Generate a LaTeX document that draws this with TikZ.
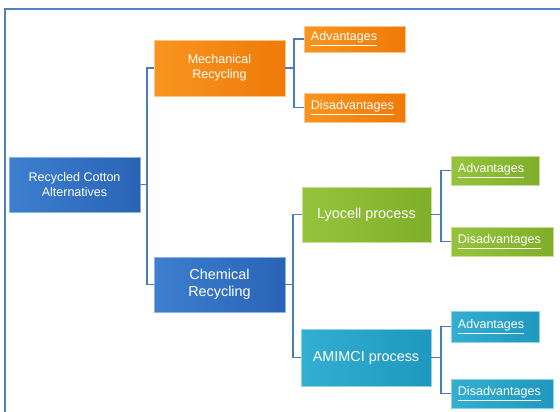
\documentclass[tikz,border=0pt]{standalone}
\usepackage{fontspec}
\setmainfont{Liberation Sans}
\usepackage{xcolor}
\usetikzlibrary{positioning}

\definecolor{framblue}{HTML}{4F81BD}
\definecolor{linkblue}{HTML}{4A7DBD}
\definecolor{blueL}{HTML}{3D7FCF}
\definecolor{blueD}{HTML}{2A63B5}
\definecolor{orngL}{HTML}{F8951F}
\definecolor{orngD}{HTML}{EF7A08}
\definecolor{grnL}{HTML}{95C43C}
\definecolor{grnD}{HTML}{80AE2A}
\definecolor{tealL}{HTML}{33AFD2}
\definecolor{tealD}{HTML}{1F97BE}

\begin{document}
\begin{tikzpicture}[x=0.75pt, y=-0.75pt,
    topic/.style={rectangle, text=white, align=center, inner sep=2pt,
                  line width=0.4pt, font=\fontsize{9.4}{11.3}\selectfont},
    bigtopic/.style={topic, font=\fontsize{10.8}{13}\selectfont},
    leaf/.style={rectangle, text=white, align=left, inner xsep=5pt, inner ysep=2pt,
                 anchor=west, line width=0.4pt, font=\fontsize{9.4}{11.3}\selectfont},
    bluefill/.style={left color=blueL, right color=blueD, draw=blueL!60!white},
    orngfill/.style={left color=orngL, right color=orngD, draw=orngL!55!white},
    grnfill/.style={left color=grnL, right color=grnD, draw=grnL!55!white},
    tealfill/.style={left color=tealL, right color=tealD, draw=tealL!55!white},
    link/.style={draw=linkblue, line width=1.4pt}
]
\useasboundingbox (0,0) rectangle (560,411);

% --- outer frame ---
\draw[framblue, line width=1.6pt] (5,415) -- (5,9) -- (565,9);

% --- root and first level ---
\node[topic, bluefill, minimum width=98.25pt, minimum height=41.25pt] (root) at (74.5,184.5)
    {Recycled Cotton\\Alternatives};
\node[topic, orngfill, minimum width=98.25pt, minimum height=42pt] (mech) at (219.5,68)
    {Mechanical\\Recycling};
\node[bigtopic, bluefill, minimum width=98.25pt, minimum height=41.25pt] (chem) at (219.5,284.5)
    {Chemical\\Recycling};

% --- chemical processes ---
\node[bigtopic, grnfill, minimum width=96.75pt, minimum height=41.25pt] (lyo) at (366.5,214.5)
    {Lyocell process};
\node[bigtopic, tealfill, minimum width=97.5pt, minimum height=42.75pt] (amim) at (366,357.5)
    {AMIMCI process};

% --- advantages / disadvantages ---
\node[leaf, orngfill, text width=65.75pt, minimum height=19.5pt] (mechadv) at (304,39)
    {\underline{Advantages}};
\node[leaf, orngfill, text width=65.75pt, minimum height=21.75pt] (mechdis) at (304,107.5)
    {\underline{Disadvantages}};
\node[leaf, grnfill, text width=56pt, minimum height=21.75pt] (lyoadv) at (451,170.5)
    {\underline{Advantages}};
\node[leaf, grnfill, text width=66.5pt, minimum height=21.75pt] (lyodis) at (451,241.5)
    {\underline{Disadvantages}};
\node[leaf, tealfill, text width=56pt, minimum height=23.25pt] (amimadv) at (451,326.5)
    {\underline{Advantages}};
\node[leaf, tealfill, text width=66.5pt, minimum height=21.75pt] (amimdis) at (451,393.5)
    {\underline{Disadvantages}};

% --- elbow connectors ---
\draw[link] (root.east) -- ++(7,0) |- (mech.west);
\draw[link] (root.east) -- ++(7,0) |- (chem.west);
\draw[link] (mech.east) -- ++(9,0) |- (mechadv.west);
\draw[link] (mech.east) -- ++(9,0) |- (mechdis.west);
\draw[link] (chem.east) -- ++(8,0) |- (lyo.west);
\draw[link] (chem.east) -- ++(8,0) |- (amim.west);
\draw[link] (lyo.east) -- ++(10,0) |- (lyoadv.west);
\draw[link] (lyo.east) -- ++(10,0) |- (lyodis.west);
\draw[link] (amim.east) -- ++(10,0) |- (amimadv.west);
\draw[link] (amim.east) -- ++(10,0) |- (amimdis.west);

\end{tikzpicture}
\end{document}
